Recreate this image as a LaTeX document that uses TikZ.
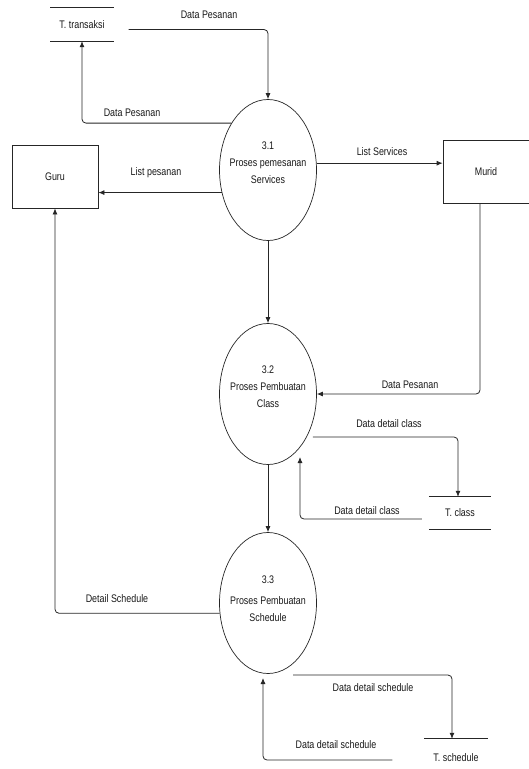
\documentclass[tikz,border=0pt]{standalone}
\usepackage{fontspec}
\setmainfont[FakeStretch=0.81]{Liberation Sans}
\usetikzlibrary{shapes.geometric,arrows.meta}

\begin{document}
\begin{tikzpicture}[x=1pt,y=-1pt,
  font=\fontsize{11}{17}\selectfont, text=black!90,
  flow/.style={draw=black!85, line width=0.8pt, rounded corners=4pt, -{Latex[length=6pt,width=5pt]}},
  proc/.style={ellipse, draw=black!85, line width=0.7pt, minimum width=97pt, minimum height=141pt, inner sep=0pt},
  entity/.style={rectangle, draw=black!85, line width=0.8pt, minimum width=86pt, minimum height=63pt},
  store/.style={minimum height=33pt, inner sep=0pt},
  lbl/.style={inner sep=1pt}]
  \useasboundingbox (0,0) rectangle (528,769);

  % data stores
  \node[store, minimum width=63pt] (trans) at (82,24.5) {T. transaksi};
  \draw[black!85, line width=0.8pt] (trans.north west) -- (trans.north east) (trans.south west) -- (trans.south east);
  \node[store, minimum width=62pt, minimum height=32pt] (tclass) at (460,513) {T. class};
  \draw[black!85, line width=0.8pt] (tclass.north west) -- (tclass.north east) (tclass.south west) -- (tclass.south east);
  \node[store, minimum width=63pt, minimum height=38pt] (tsched) at (456,758) {T. schedule};
  \draw[black!85, line width=0.8pt] (tsched.north west) -- (tsched.north east);

  % entities
  \node[entity] (guru) at (55,176.5) {Guru};
  \node[entity] (murid) at (486,171.5) {Murid};

  % processes
  \node[proc] (c31) at (268,170) {};
  \node[align=center] (t31) at ([yshift=7pt]c31.center) {3.1\\Proses pemesanan\\Services};
  \node[proc] (c32) at (268,394) {};
  \node[align=center] (t32) at ([yshift=7pt]c32.center) {3.2\\Proses Pembuatan\\Class};
  \node[proc] (c33) at (268,603) {};
  \node[align=center] (t33) at ([yshift=4pt]c33.center) {3.3\\[4pt]Proses Pembuatan\\Schedule};

  % flows
  \draw[flow] ([shift={(15pt,-5pt)}]trans.east) -| (c31.north);
  \draw[flow] (c31.128) -| (trans.south);
  \draw[flow] (c31.206) -- (c31.206 -| guru.east);
  \draw[flow] (c31.8) -- (c31.8 -| murid.west);
  \draw[flow] (c31.south) -- (c32.north);
  \draw[flow] ([xshift=-6pt]murid.south) |- (c32.east);
  \draw[flow] ([shift={(-4pt,-43pt)}]c32.east) -| ([xshift=-2pt]tclass.north);
  \draw[flow] ([shift={(-7pt,-6pt)}]tclass.west) -| ([shift={(32pt,-63pt)}]c32.center);
  \draw[flow] (c32.south) -- (c33.north);
  \draw[flow] (c33.192) -| (guru.south);
  \draw[flow] ([shift={(25pt,-72pt)}]c33.center) -| ([xshift=-4pt]tsched.north);
  \draw[flow] ([shift={(-32pt,-2pt)}]tsched.west) -| ([shift={(-5pt,-75pt)}]c33.center);

  % labels
  \node[lbl] (l1) at (209,15) {Data Pesanan};
  \node[lbl] (l2) at (132,113) {Data Pesanan};
  \node[lbl] (l3) at (156,173) {List pesanan};
  \node[lbl] (l4) at (382,152) {List Services};
  \node[lbl] (l5) at (410,385) {Data Pesanan};
  \node[lbl] (l6) at (389,424) {Data detail class};
  \node[lbl] (l7) at (367,511) {Data detail class};
  \node[lbl] (l8) at (117,599) {Detail Schedule};
  \node[lbl] (l9) at (373,688) {Data detail schedule};
  \node[lbl] (l10) at (336,745) {Data detail schedule};
\end{tikzpicture}
\end{document}
